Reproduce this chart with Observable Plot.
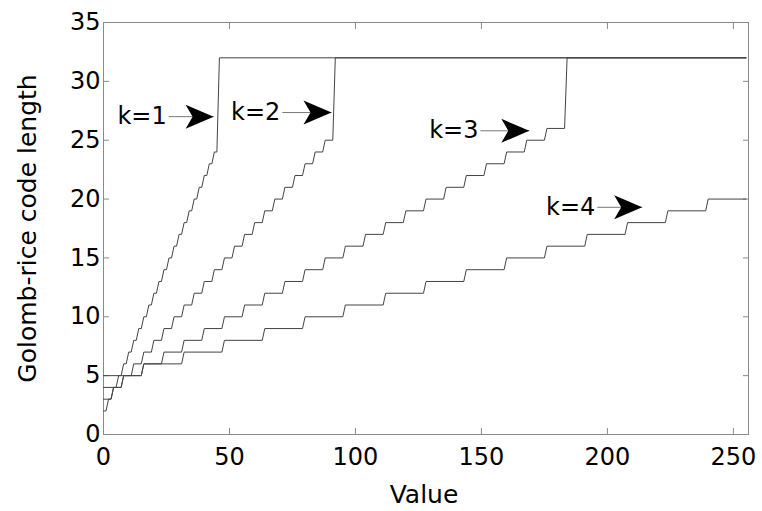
<!DOCTYPE html>
<html><head><meta charset="utf-8">
<script src="https://cdn.jsdelivr.net/npm/d3@7"></script>
<script src="https://cdn.jsdelivr.net/npm/@observablehq/plot@0.6"></script>
<style>body{margin:0;background:#fff}</style>
</head><body><div id="chart"></div>
<script>
// Step series: value where each code length begins, and the code length
const k1Start = [0,2,4,6,8,10,12,14,16,18,20,22,24,26,28,30,32,34,36,38,40,42,44,46];
const k1Len   = [2,3,4,5,6,7,8,9,10,11,12,13,14,15,16,17,18,19,20,21,22,23,24,32];
const k2Start = [0,4,8,12,16,20,24,28,32,36,40,44,48,52,56,60,64,68,72,76,80,84,88,92];
const k2Len   = [3,4,5,6,7,8,9,10,11,12,13,14,15,16,17,18,19,20,21,22,23,24,25,32];
const k3Start = [0,8,16,24,32,40,48,56,64,72,80,88,96,104,112,120,128,136,144,152,160,168,176,184];
const k3Len   = [4,5,6,7,8,9,10,11,12,13,14,15,16,17,18,19,20,21,22,23,24,25,26,32];
const k4Start = [0,16,32,48,64,80,96,112,128,144,160,176,192,208,224,240];
const k4Len   = [5,6,7,8,9,10,11,12,13,14,15,16,17,18,19,20];
const lastValue = 255;

const seriesNames = ["k=1","k=2","k=3","k=4"];
const xTicks = [0,50,100,150,200,250];
const yTicks = [0,5,10,15,20,25,30,35];

// annotation arrows
const annLabel  = ["k=1","k=2","k=3","k=4"];
const annStartX = [25.9, 71, 149.6, 196];
const annTipX   = [43.7, 90.5, 169, 213.8];
const annY      = [27, 27.35, 25.8, 19.3];

const starts = [k1Start, k2Start, k3Start, k4Start];
const lens = [k1Len, k2Len, k3Len, k4Len];
const rows = [];
seriesNames.forEach((name, s) => {
  const st = starts[s], ln = lens[s];
  st.forEach((x0, i) => {
    const x1 = i < st.length - 1 ? st[i + 1] - 1 : lastValue;
    rows.push({k: name, x: x0, y: ln[i]});
    rows.push({k: name, x: x1, y: ln[i]});
  });
});
const ann = annLabel.map((t, i) => ({t, x0: annStartX[i], x1: annTipX[i], y: annY[i]}));

const arrowHead = {
  draw(ctx, size) {
    const r = Math.sqrt(size / Math.PI);
    ctx.moveTo(0, 0);
    ctx.lineTo(-2 * r, -0.86 * r);
    ctx.lineTo(-1.5 * r, 0);
    ctx.lineTo(-2 * r, 0.86 * r);
    ctx.closePath();
  }
};

const font = "DejaVu Sans";
const chart = Plot.plot({
  width: 762, height: 511,
  marginLeft: 103, marginRight: 14, marginTop: 22, marginBottom: 77,
  style: {fontFamily: font, background: "#fff"},
  x: {domain: [0, 256]},
  y: {domain: [0, 35]},
  marks: [
    Plot.frame({stroke: "#8a8a8a"}),
    Plot.axisX({ticks: xTicks, tickSize: -6, tickPadding: 19, fontSize: 24, stroke: "#8a8a8a", fill: "#000", label: null}),
    Plot.axisX({anchor: "top", ticks: xTicks, tickSize: -6, tickFormat: () => "", stroke: "#8a8a8a", label: null}),
    Plot.axisY({ticks: yTicks, tickSize: -6, tickPadding: 9, fontSize: 24, stroke: "#8a8a8a", fill: "#000", label: null}),
    Plot.axisY({anchor: "right", ticks: yTicks, tickSize: -6, tickFormat: () => "", stroke: "#8a8a8a", label: null}),
    Plot.line(rows, {x: "x", y: "y", z: "k", stroke: "#444", strokeWidth: 1}),
    Plot.link(ann, {x1: "x0", x2: "x1", y1: "y", y2: "y", stroke: "#777", strokeWidth: 1}),
    Plot.dot(ann, {x: "x1", y: "y", symbol: arrowHead, r: 14, fill: "#000", stroke: "none"}),
    Plot.text(ann, {x: "x0", y: "y", text: "t", textAnchor: "end", dx: -2, fontSize: 24, fill: "#000"}),
    Plot.text(["Value"], {text: d => d, frameAnchor: "bottom", dy: 60, dx: -2, lineAnchor: "middle", textAnchor: "middle", fontSize: 25, fill: "#000", letterSpacing: 3}),
    Plot.text(["Golomb-rice code length"], {text: d => d, frameAnchor: "left", dx: -76, rotate: -90, textAnchor: "middle", lineAnchor: "middle", fontSize: 25, fill: "#000"})
  ]
});
document.getElementById("chart").appendChild(chart);
</script>
</body></html>
